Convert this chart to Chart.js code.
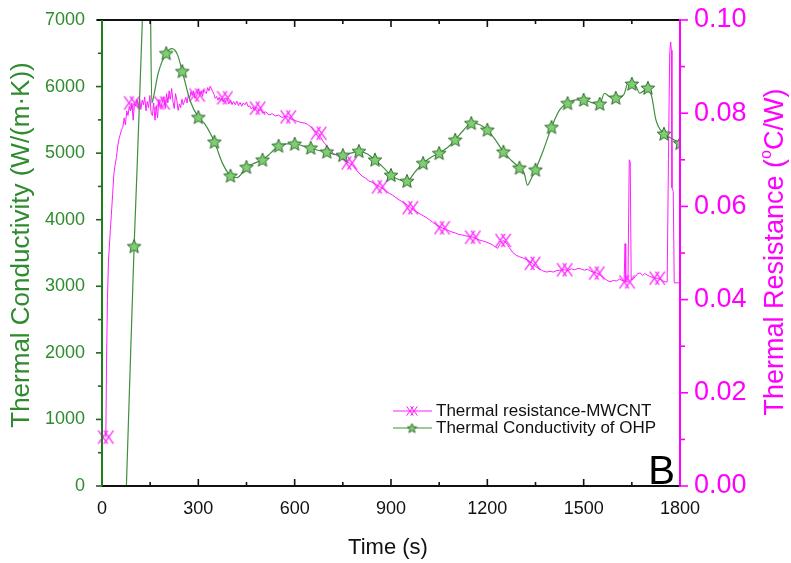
<!DOCTYPE html>
<html><head><meta charset="utf-8">
<script src="https://cdn.jsdelivr.net/npm/chart.js@4.4.1/dist/chart.umd.min.js"></script>
<style>html,body{margin:0;padding:0;background:#fff;}#wrap{width:791px;height:563px;}</style>
</head><body><div id="wrap"><canvas id="c" width="791" height="563"></canvas></div>
<script>
// ---------- data ----------
const resTime = [12,14,17,20,23,26,29,33,37,41,45,49,53,57,61,65,69,73,77,81,85,89,93,97,101,105,109,113,117,121,125,129,133,137,141,145,149,153,157,161,165,169,173,177,181,187,193,197,201,205,209,213,217,221,225,229,233,237,241,245,249,253,257,261,265,269,273,277,281,285,289,296,301,305,309,313,317,321,325,329,333,337,341,345,349,353,357,361,365,369,373,377,383,390,395,400,405,410,415,420,425,430,435,440,445,450,455,460,465,470,475,480,485,490,495,500,510,520,530,540,550,560,570,580,590,600,610,620,630,640,650,660,670,675,680,690,700,710,720,730,740,750,760,770,780,790,800,810,820,830,840,850,865,875,885,895,905,915,925,935,945,955,960,970,980,990,1000,1010,1020,1030,1040,1050,1059,1070,1080,1090,1100,1110,1120,1130,1140,1155,1165,1175,1185,1195,1205,1215,1225,1232,1240,1249,1258,1268,1278,1290,1300,1312,1324,1341,1352,1362,1372,1385,1395,1405,1415,1425,1441,1452,1462,1472,1482,1492,1502,1512,1522,1530,1541,1552,1562,1572,1582,1592,1602,1612,1620,1626,1629,1631,1635,1638,1642,1645,1648,1655,1662,1668,1676,1684,1690,1697,1705,1713,1720,1729,1738,1746,1755,1760,1764,1768,1771,1773,1775,1779,1782,1800];
const resValue = [0.0105,0.026,0.040,0.048,0.0515,0.055,0.058,0.0625,0.067,0.069,0.0705,0.073,0.0745,0.0755,0.0765,0.077,0.079,0.0775,0.0805,0.0795,0.0815,0.0805,0.0822,0.0785,0.082,0.0815,0.0830,0.0812,0.0832,0.0808,0.0828,0.0818,0.0835,0.0805,0.0825,0.0812,0.0838,0.0800,0.0795,0.0822,0.0785,0.0815,0.0790,0.0830,0.0812,0.0822,0.0835,0.0810,0.0842,0.0822,0.0848,0.0830,0.0853,0.0825,0.0810,0.0842,0.0828,0.0806,0.0820,0.0812,0.0830,0.0818,0.0826,0.0834,0.0822,0.0840,0.0832,0.0846,0.0838,0.0848,0.0832,0.0839,0.0852,0.0840,0.0848,0.0836,0.0850,0.0845,0.0842,0.0855,0.0848,0.0858,0.0852,0.0846,0.0840,0.0832,0.0836,0.0828,0.0834,0.0826,0.0832,0.0824,0.0833,0.0830,0.0820,0.0828,0.0819,0.0825,0.0818,0.0826,0.0816,0.0823,0.0815,0.0822,0.0818,0.0824,0.0814,0.0816,0.0809,0.0813,0.0806,0.0812,0.0811,0.0805,0.0808,0.0800,0.0803,0.0796,0.0799,0.0794,0.0796,0.0791,0.0793,0.0792,0.0787,0.0785,0.0782,0.0780,0.0779,0.0776,0.0771,0.0765,0.0758,0.0757,0.0750,0.0738,0.0730,0.0721,0.0714,0.0710,0.0705,0.0701,0.0697,0.0693,0.0688,0.0680,0.0672,0.0665,0.0661,0.0655,0.0652,0.0648,0.0642,0.0638,0.0633,0.0628,0.0624,0.0619,0.0614,0.0610,0.0606,0.0601,0.0597,0.0592,0.0588,0.0584,0.0580,0.0576,0.0571,0.0566,0.0561,0.0557,0.0554,0.0550,0.0548,0.0545,0.0543,0.0540,0.0539,0.0537,0.0536,0.0534,0.0531,0.0528,0.0526,0.0524,0.0521,0.0518,0.0513,0.0510,0.0520,0.0527,0.0522,0.0512,0.0502,0.0495,0.0492,0.0489,0.0485,0.0478,0.0470,0.0466,0.0462,0.0459,0.0461,0.0459,0.0462,0.0463,0.0464,0.0463,0.0466,0.0464,0.0467,0.0466,0.0463,0.0465,0.0461,0.0459,0.0457,0.0452,0.0447,0.0442,0.0438,0.0441,0.0440,0.0444,0.0441,0.0440,0.0520,0.0438,0.0438,0.0440,0.0700,0.0695,0.0442,0.0445,0.0450,0.0456,0.0457,0.0452,0.0456,0.0453,0.0450,0.0448,0.0446,0.0446,0.0444,0.0440,0.0438,0.0438,0.0700,0.0930,0.0953,0.0935,0.0640,0.0632,0.0436,0.0436];
const resMarkerTimes = [12,93,187,296,383,485,580,675,770,865,960,1059,1155,1249,1341,1441,1541,1635,1729];

const condTime = [76,100,125,138,150,155,162,175,200,218,235,250,275,300,320,350,375,400,420,450,475,500,525,550,575,600,625,650,675,700,725,750,775,800,825,850,875,900,925,950,975,1000,1025,1050,1075,1100,1125,1150,1175,1200,1225,1250,1275,1300,1315,1325,1335,1350,1375,1400,1425,1450,1475,1500,1525,1550,1565,1580,1600,1625,1638,1650,1662,1675,1690,1700,1712,1725,1750,1775,1800];
const condValue = [0,3600,6900,9500,7600,5750,5880,6200,6500,6570,6480,6230,5780,5540,5440,5170,4850,4660,4630,4790,4850,4900,5000,5110,5140,5140,5110,5080,5040,5020,4980,4970,5000,5030,4990,4900,4790,4670,4600,4580,4720,4850,4940,5000,5080,5200,5340,5450,5430,5350,5200,5020,4890,4780,4700,4520,4600,4750,5050,5390,5650,5750,5800,5800,5760,5740,5900,5850,5830,5880,6050,6040,6010,5900,5950,5980,5850,5500,5290,5220,5150];
const condMarkerTimes = [100,200,250,300,350,400,450,500,550,600,650,700,750,800,850,900,950,1000,1050,1100,1150,1200,1250,1300,1350,1400,1450,1500,1550,1600,1650,1700,1750,1800];

const xTicks = [0,300,600,900,1200,1500,1800];
const leftTicks = [0,1000,2000,3000,4000,5000,6000,7000];
const rightTicks = [0,0.02,0.04,0.06,0.08,0.10];

const seriesNames = ['Thermal resistance-MWCNT','Thermal Conductivity of OHP'];
const xTitle = 'Time (s)';
const leftTitle = 'Thermal Conductivity (W/(m\u00B7K))';

// ---------- styles ----------
const MAG = '#ff1cff';
const MAGTXT = '#ff00ff';
const GRN_LINE = '#3f8f3f';
const GRN_TXT = '#2e8b2e';
const GRN_AXIS = '#1c7f1c';
const FONT = '"Liberation Sans", Arial, sans-serif';

function crossMarker(s, col, lw){
  const c = document.createElement('canvas'); c.width = s; c.height = s;
  const g = c.getContext('2d'); g.strokeStyle = col; g.lineWidth = lw;
  const h = s/2, d = s*0.28;
  g.beginPath();
  [h-d*0.6, h+d*0.6].forEach(cx=>{
    g.moveTo(cx-d, h-d*1.4); g.lineTo(cx+d, h+d*1.4);
    g.moveTo(cx+d, h-d*1.4); g.lineTo(cx-d, h+d*1.4);
  });
  g.stroke();
  return c;
}
function starMarker(s, fill, stroke){
  const c = document.createElement('canvas'); c.width = s; c.height = s;
  const g = c.getContext('2d');
  const h = s/2, ro = s*0.45, ri = s*0.2;
  g.beginPath();
  for (let i=0;i<10;i++){
    const r = i%2===0?ro:ri; const ang = -Math.PI/2 + i*Math.PI/5;
    const px = h + r*Math.cos(ang), py = h + 0.5 + r*Math.sin(ang);
    if(i===0) g.moveTo(px,py); else g.lineTo(px,py);
  }
  g.closePath(); g.fillStyle = fill; g.fill(); g.strokeStyle = stroke; g.lineWidth = 1; g.stroke();
  return c;
}
const magMark = crossMarker(17, MAG, 1.2);
const starMark = starMarker(16, '#7fcf72', '#2f6b2f');
const magMarkSmall = crossMarker(12, MAG, 1);
const starMarkSmall = starMarker(11, '#7fcf72', '#2f6b2f');

const resSet = new Set(resMarkerTimes);
const condSet = new Set(condMarkerTimes);
const plainNum = v => String(v);
const noPad = s => { s.paddingTop = 0; s.paddingBottom = 0; s.paddingLeft = 0; s.paddingRight = 0; };

const decor = {
  id: 'decor',
  afterDraw(chart){
    const {ctx, chartArea: a, scales} = chart;
    const sx = scales.x, sy = scales.y, sr = scales.y2;
    ctx.save();
    const ln = (x1,y1,x2,y2)=>{ctx.beginPath();ctx.moveTo(x1,y1);ctx.lineTo(x2,y2);ctx.stroke();};
    // x ticks (inward, top & bottom)
    ctx.strokeStyle = '#111'; ctx.lineWidth = 1.6;
    xTicks.forEach((v,i)=>{
      const p = sx.getPixelForValue(v);
      ln(p,a.bottom,p,a.bottom-7); ln(p,a.top,p,a.top+7);
      if(i<xTicks.length-1){
        const m = sx.getPixelForValue((v+xTicks[i+1])/2);
        ln(m,a.bottom,m,a.bottom-4); ln(m,a.top,m,a.top+4);
      }
    });
    // left ticks (outward)
    ctx.strokeStyle = '#225f22';
    leftTicks.forEach((v,i)=>{
      const p = sy.getPixelForValue(v);
      ln(a.left,p,a.left-6,p);
      if(i<leftTicks.length-1){ const m = sy.getPixelForValue((v+leftTicks[i+1])/2); ln(a.left,m,a.left-4,m); }
    });
    // right ticks (outward)
    ctx.strokeStyle = MAGTXT;
    rightTicks.forEach((v,i)=>{
      const p = sr.getPixelForValue(v);
      ln(a.right,p,a.right+8,p);
      if(i<rightTicks.length-1){ const m = sr.getPixelForValue((v+rightTicks[i+1])/2); ln(a.right,m,a.right+5,m); }
    });
    // frame
    ctx.strokeStyle = '#111'; ctx.lineWidth = 2;
    ln(a.left-5,a.top,a.right,a.top); ln(a.left,a.bottom,a.right,a.bottom);
    ctx.strokeStyle = GRN_AXIS; ctx.lineWidth = 2; ln(a.left,a.top,a.left,a.bottom);
    ctx.strokeStyle = MAGTXT; ctx.lineWidth = 2; ln(a.right,a.top-1,a.right,a.bottom+1);

    // titles
    ctx.fillStyle = '#111'; ctx.font = '22px '+FONT; ctx.textAlign='center'; ctx.textBaseline='middle';
    ctx.fillText(xTitle, (a.left+a.right)/2 - 3, 548);
    ctx.save(); ctx.translate(22, 245); ctx.rotate(-Math.PI/2);
    ctx.fillStyle = GRN_TXT; ctx.font = '26px '+FONT; ctx.fillText(leftTitle,0,0); ctx.restore();
    // right title with superscript o
    ctx.save(); ctx.translate(776, 252); ctx.rotate(-Math.PI/2);
    ctx.fillStyle = MAGTXT; ctx.textBaseline='middle'; ctx.textAlign='left';
    const f1 = '27px '+FONT, f2 = '16px '+FONT;
    const p1 = 'Thermal Resistance (', p2 = 'o', p3 = 'C/W)';
    ctx.font = f1; const w1 = ctx.measureText(p1).width, w3 = ctx.measureText(p3).width;
    ctx.font = f2; const w2 = ctx.measureText(p2).width;
    let tx = -(w1+w2+w3)/2;
    ctx.font = f1; ctx.fillText(p1, tx, 0); tx += w1;
    ctx.font = f2; ctx.fillText(p2, tx, -9); tx += w2;
    ctx.font = f1; ctx.fillText(p3, tx, 0);
    ctx.restore();

    // legend
    ctx.textAlign='left'; ctx.textBaseline='middle'; ctx.font = '17px '+FONT; ctx.fillStyle='#111';
    ctx.lineWidth = 1;
    ctx.strokeStyle = MAG; ln(393,411,432,411);
    ctx.drawImage(magMarkSmall, 412-6, 411-6);
    ctx.fillText(seriesNames[0], 436, 411);
    ctx.strokeStyle = GRN_LINE; ln(393,428,432,428);
    ctx.drawImage(starMarkSmall, 412-5.5, 428-5.5);
    ctx.fillText(seriesNames[1], 436, 428);

    // panel letter
    ctx.font = '40px '+FONT; ctx.textAlign='right'; ctx.textBaseline='alphabetic'; ctx.fillStyle='#000';
    ctx.fillText('B', 675, 484);
    ctx.restore();
  }
};

new Chart(document.getElementById('c'), {
  type: 'line',
  data: {
    datasets: [
      {
        label: seriesNames[0],
        data: resTime.map((t,i)=>({x:t, y:resValue[i]})),
        yAxisID: 'y2',
        borderColor: MAG, borderWidth: 1, tension: 0,
        pointStyle: magMark,
        pointRadius: c => (c.raw && resSet.has(c.raw.x)) ? 5 : 0,
        pointHoverRadius: 0,
        order: 2, clip: false
      },
      {
        label: seriesNames[1],
        data: condTime.map((t,i)=>({x:t, y:condValue[i]})),
        yAxisID: 'y',
        borderColor: GRN_LINE, borderWidth: 1.2,
        cubicInterpolationMode: 'monotone',
        pointStyle: starMark,
        pointRadius: c => (c.raw && condSet.has(c.raw.x)) ? 5 : 0,
        pointHoverRadius: 0,
        order: 1
      }
    ]
  },
  options: {
    responsive: false, animation: false, devicePixelRatio: 1, events: [],
    layout: { padding: { top: 20, left: 0, right: 0, bottom: 0 } },
    plugins: { legend: { display: false }, tooltip: { enabled: false } },
    scales: {
      x: {
        type: 'linear', position: 'bottom', min: 0, max: 1800,
        afterBuildTicks: s => { s.ticks = xTicks.map(v=>({value:v})); },
        afterFit: s => { s.height = 77; noPad(s); },
        ticks: { color: '#111', font: { size: 18, family: FONT }, padding: 12, maxRotation: 0, autoSkip: false, callback: plainNum },
        grid: { display: false, drawTicks: false }, border: { display: false }
      },
      y: {
        type: 'linear', position: 'left', min: 0, max: 7000,
        afterBuildTicks: s => { s.ticks = leftTicks.map(v=>({value:v})); },
        afterFit: s => { s.width = 102; noPad(s); },
        ticks: { color: GRN_TXT, font: { size: 18, family: FONT }, padding: 17, callback: plainNum },
        grid: { display: false, drawTicks: false }, border: { display: false }
      },
      y2: {
        type: 'linear', position: 'right', min: 0, max: 0.1,
        afterBuildTicks: s => { s.ticks = rightTicks.map(v=>({value:v})); },
        afterFit: s => { s.width = 111; noPad(s); },
        ticks: { color: MAGTXT, font: { size: 27, family: FONT }, padding: 14, callback: v => v.toFixed(2) },
        grid: { display: false, drawTicks: false }, border: { display: false }
      }
    }
  },
  plugins: [decor]
});
</script>
</body></html>
